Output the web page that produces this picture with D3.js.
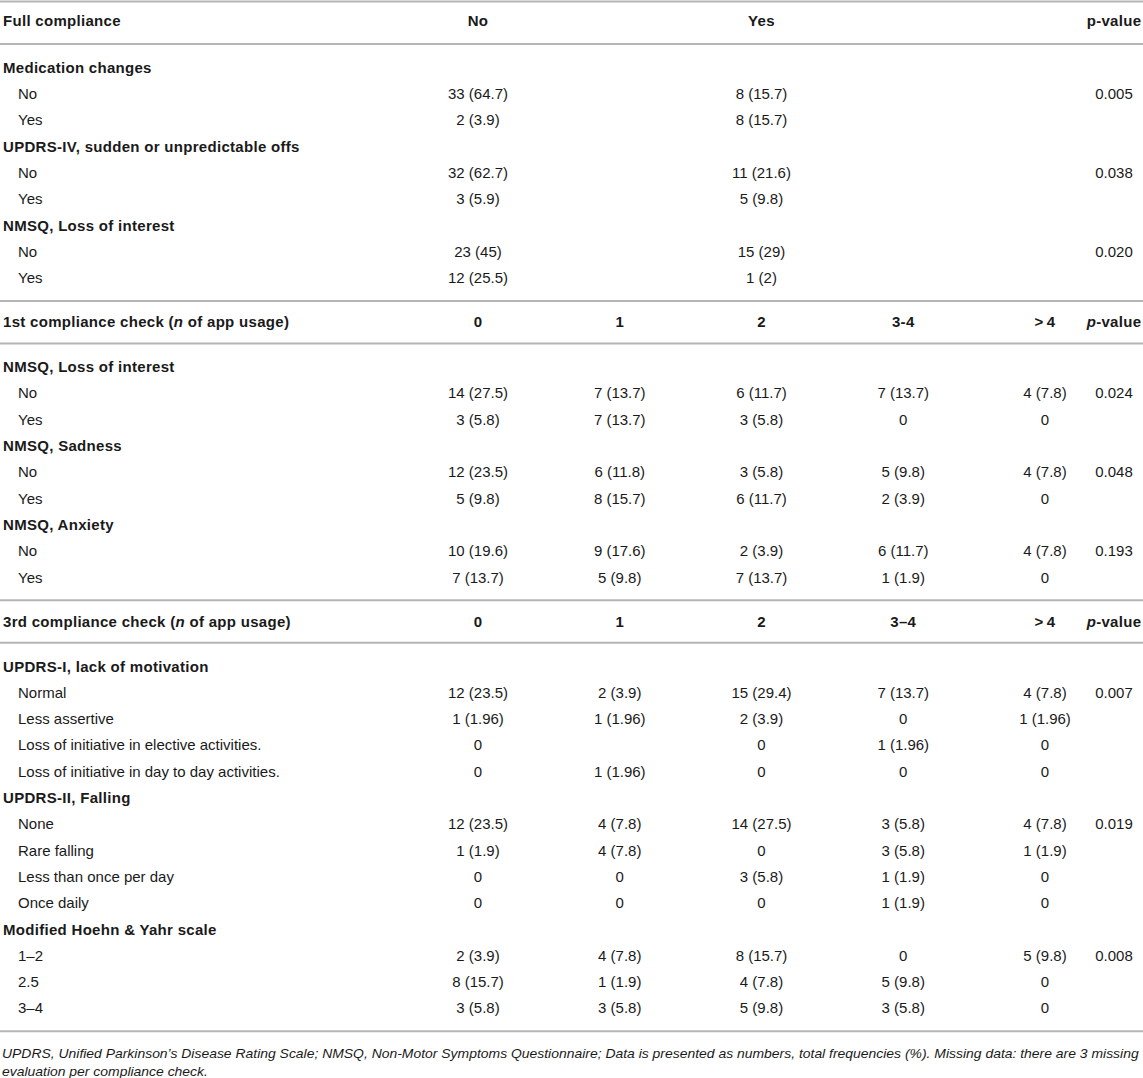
<!DOCTYPE html>
<html>
<head>
<meta charset="utf-8">
<script src="https://cdn.jsdelivr.net/npm/d3@7"></script>
<style>
  body { margin: 0; background: #fff; }
  svg { display: block; }
  text { font-family: "Liberation Sans", Arial, Helvetica, sans-serif; fill: #1a1a1a; }
  .bold { font-weight: bold; letter-spacing: 0.3px; }
  .note { font-family: "Liberation Sans Narrow", "Liberation Sans", sans-serif; font-style: italic; }
</style>
</head>
<body>
<svg id="tbl" width="1143" height="1078"></svg>
<script>
// table data
const fullCols = ["No", "Yes"];
const fullGroups = ["Medication changes", "UPDRS-IV, sudden or unpredictable offs", "NMSQ, Loss of interest"];
const fullLevels = [["No", "Yes"], ["No", "Yes"], ["No", "Yes"]];
const fullValues = [
  [["33 (64.7)", "8 (15.7)"], ["2 (3.9)", "8 (15.7)"]],
  [["32 (62.7)", "11 (21.6)"], ["3 (5.9)", "5 (9.8)"]],
  [["23 (45)", "15 (29)"], ["12 (25.5)", "1 (2)"]]
];
const fullP = ["0.005", "0.038", "0.020"];

const check1Cols = ["0", "1", "2", "3-4", ">\u20094"];
const check1Groups = ["NMSQ, Loss of interest", "NMSQ, Sadness", "NMSQ, Anxiety"];
const check1Levels = [["No", "Yes"], ["No", "Yes"], ["No", "Yes"]];
const check1Values = [
  [["14 (27.5)", "7 (13.7)", "6 (11.7)", "7 (13.7)", "4 (7.8)"], ["3 (5.8)", "7 (13.7)", "3 (5.8)", "0", "0"]],
  [["12 (23.5)", "6 (11.8)", "3 (5.8)", "5 (9.8)", "4 (7.8)"], ["5 (9.8)", "8 (15.7)", "6 (11.7)", "2 (3.9)", "0"]],
  [["10 (19.6)", "9 (17.6)", "2 (3.9)", "6 (11.7)", "4 (7.8)"], ["7 (13.7)", "5 (9.8)", "7 (13.7)", "1 (1.9)", "0"]]
];
const check1P = ["0.024", "0.048", "0.193"];

const check3Cols = ["0", "1", "2", "3\u20134", ">\u20094"];
const check3Groups = ["UPDRS-I, lack of motivation", "UPDRS-II, Falling", "Modified Hoehn & Yahr scale"];
const check3Levels = [
  ["Normal", "Less assertive", "Loss of initiative in elective activities.", "Loss of initiative in day to day activities."],
  ["None", "Rare falling", "Less than once per day", "Once daily"],
  ["1\u20132", "2.5", "3\u20134"]
];
const check3Values = [
  [["12 (23.5)", "2 (3.9)", "15 (29.4)", "7 (13.7)", "4 (7.8)"],
   ["1 (1.96)", "1 (1.96)", "2 (3.9)", "0", "1 (1.96)"],
   ["0", "", "0", "1 (1.96)", "0"],
   ["0", "1 (1.96)", "0", "0", "0"]],
  [["12 (23.5)", "4 (7.8)", "14 (27.5)", "3 (5.8)", "4 (7.8)"],
   ["1 (1.9)", "4 (7.8)", "0", "3 (5.8)", "1 (1.9)"],
   ["0", "0", "3 (5.8)", "1 (1.9)", "0"],
   ["0", "0", "0", "1 (1.9)", "0"]],
  [["2 (3.9)", "4 (7.8)", "8 (15.7)", "0", "5 (9.8)"],
   ["8 (15.7)", "1 (1.9)", "4 (7.8)", "5 (9.8)", "0"],
   ["3 (5.8)", "3 (5.8)", "5 (9.8)", "3 (5.8)", "0"]]
];
const check3P = ["0.007", "0.019", "0.008"];

const footNote = [
  "UPDRS, Unified Parkinson\u2019s Disease Rating Scale; NMSQ, Non-Motor Symptoms Questionnaire; Data is presented as numbers, total frequencies (%). Missing data: there are 3 missing",
  "evaluation per compliance check."
];

const sections = [
  { title: [["Full compliance", false]], cols: fullCols, colIdx: [0, 2], pHead: [["p-value", false]],
    groups: fullGroups, levels: fullLevels, values: fullValues, p: fullP, headGap: 19.5 },
  { title: [["1st compliance check (", false], ["n", true], [" of app usage)", false]], cols: check1Cols, colIdx: [0, 1, 2, 3, 4],
    pHead: [["p", true], ["-value", false]], groups: check1Groups, levels: check1Levels, values: check1Values, p: check1P, headGap: 21 },
  { title: [["3rd compliance check (", false], ["n", true], [" of app usage)", false]], cols: check3Cols, colIdx: [0, 1, 2, 3, 4],
    pHead: [["p", true], ["-value", false]], groups: check3Groups, levels: check3Levels, values: check3Values, p: check3P, headGap: 21 }
];

const W = 1143;
const svg = d3.select('#tbl');
const x = d3.scaleLinear().domain([0, 4]).range([478, 1045]);
const pX = 1114;
const fs = 15;
const step = 26.3;

// build flat list of rows with y positions
const rules = [];
const cells = [];
let y = 1.5;
sections.forEach(sec => {
  rules.push(y);
  cells.push({ kind: 'head', y: y + sec.headGap, sec });
  y += 42.5;
  rules.push(y);
  y += 23.5;
  sec.groups.forEach((g, gi) => {
    cells.push({ kind: 'group', y, label: g });
    sec.levels[gi].forEach((lv, li) => {
      y += step;
      cells.push({ kind: 'row', y, label: lv, vals: sec.values[gi][li], sec, p: li === 0 ? sec.p[gi] : '' });
    });
    y += step;
  });
  y -= step;
  y += 23;
});
rules.push(y);

svg.selectAll('line.rule').data(rules).join('line')
  .attr('class', 'rule')
  .attr('x1', 0).attr('x2', W)
  .attr('y1', d => d).attr('y2', d => d)
  .attr('stroke', '#b5b5b5').attr('stroke-width', 2);

function addRich(g, parts, xPos, yPos, anchor) {
  const t = g.append('text')
    .attr('class', 'bold')
    .attr('x', xPos).attr('y', yPos)
    .attr('dy', '0.35em')
    .attr('text-anchor', anchor)
    .style('font-size', fs + 'px');
  parts.forEach(([s, it]) => t.append('tspan').text(s).style('font-style', it ? 'italic' : 'normal'));
}

const g = svg.append('g');
cells.forEach(c => {
  if (c.kind === 'head') {
    addRich(g, c.sec.title, 3, c.y, 'start');
    c.sec.cols.forEach((col, i) => {
      g.append('text').attr('class', 'bold')
        .attr('x', x(c.sec.colIdx[i])).attr('y', c.y).attr('dy', '0.35em')
        .attr('text-anchor', 'middle').style('font-size', fs + 'px')
        .text(col);
    });
    addRich(g, c.sec.pHead, pX, c.y, 'middle');
  } else if (c.kind === 'group') {
    g.append('text').attr('class', 'bold')
      .attr('x', 3).attr('y', c.y).attr('dy', '0.35em')
      .style('font-size', fs + 'px').text(c.label);
  } else {
    g.append('text')
      .attr('x', 18).attr('y', c.y).attr('dy', '0.35em')
      .style('font-size', fs + 'px').text(c.label);
    c.vals.forEach((v, i) => {
      g.append('text')
        .attr('x', x(c.sec.colIdx[i])).attr('y', c.y).attr('dy', '0.35em')
        .attr('text-anchor', 'middle').style('font-size', fs + 'px')
        .text(v);
    });
    if (c.p) {
      g.append('text')
        .attr('x', pX).attr('y', c.y).attr('dy', '0.35em')
        .attr('text-anchor', 'middle').style('font-size', fs + 'px')
        .text(c.p);
    }
  }
});

// footnote, squeezed to the table width
const note = svg.append('g');
const nt = note.selectAll('text').data(footNote).join('text')
  .attr('class', 'note')
  .attr('x', 0)
  .attr('y', (d, i) => y + 27 + i * 17.5)
  .style('font-size', '13px')
  .text(d => d);
const natural = nt.nodes()[0].getComputedTextLength();
const k = (W - 6) / natural;
note.attr('transform', `translate(2,0) scale(${k},1)`);
</script>
</body>
</html>
